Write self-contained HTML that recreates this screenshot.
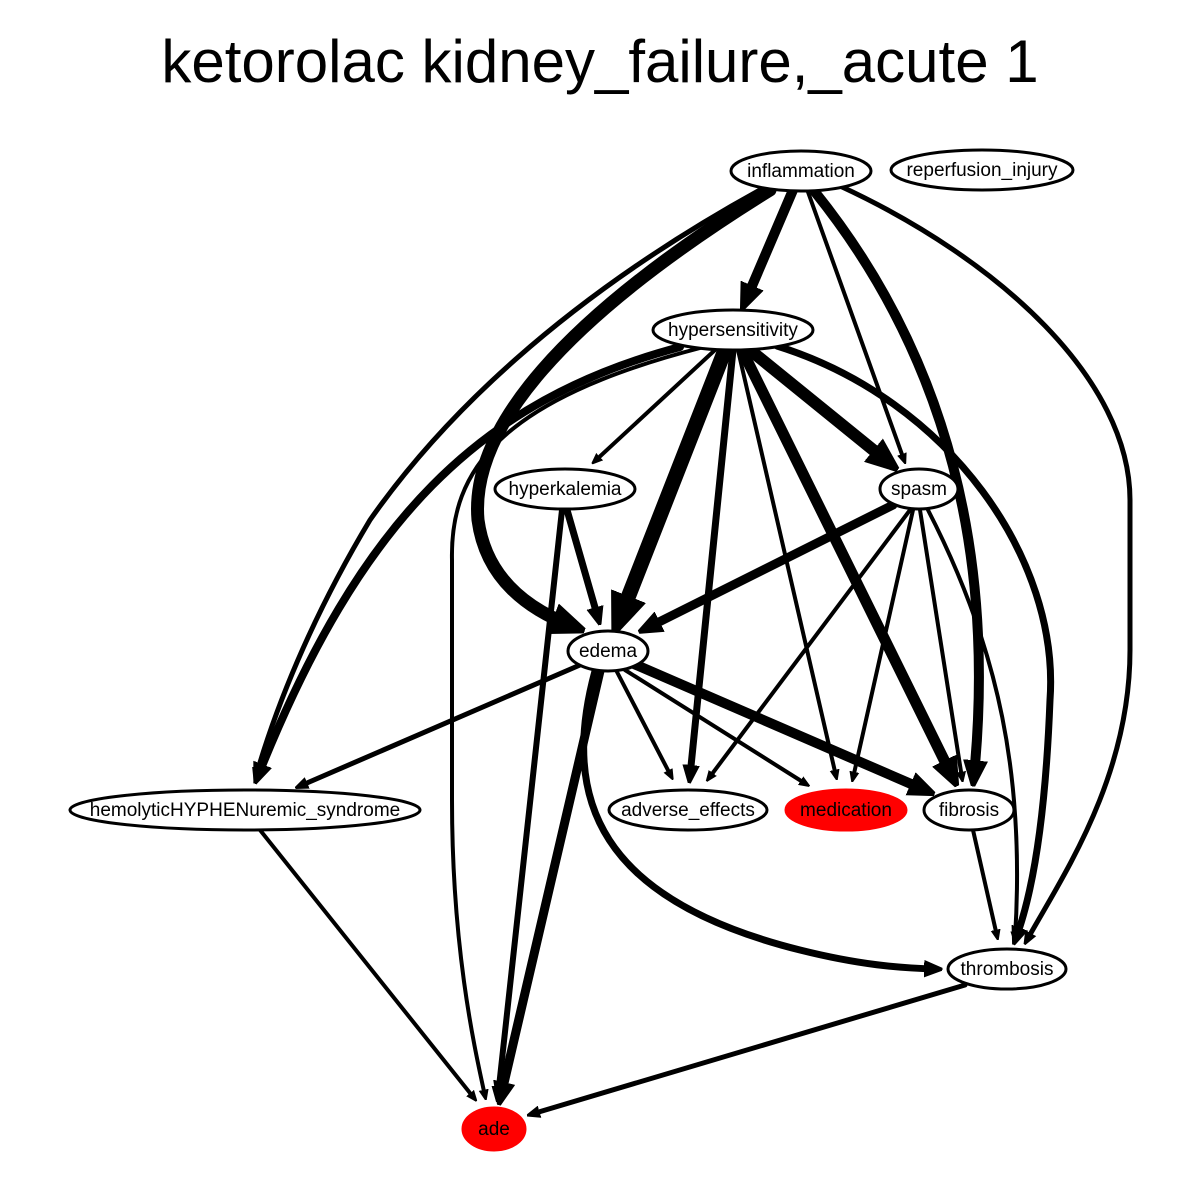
<!DOCTYPE html>
<html><head><meta charset="utf-8"><style>
body{margin:0;background:#fff}
svg{display:block}
text{font-family:"Liberation Sans",sans-serif}
</style></head><body>
<svg id="chart" width="1200" height="1200" viewBox="0 0 1200 1200">
<rect width="1200" height="1200" fill="#fff"/>
<text x="600" y="82" font-size="60" text-anchor="middle">ketorolac kidney_failure,_acute 1</text>
<defs>
<marker id="arr" viewBox="0 0 10 10" refX="6" refY="5" markerWidth="2.6" markerHeight="2.6" markerUnits="strokeWidth" orient="auto">
<path d="M0,1 L10,5 L0,9 Z" fill="#000" stroke="#000" stroke-width="1.5" stroke-linejoin="round"/>
</marker>
</defs>
<g id="edges"></g>
<g id="nodes"></g>
</svg>
<script>
const nodeNames=["inflammation","reperfusion_injury","hypersensitivity","hyperkalemia","spasm","edema","hemolyticHYPHENuremic_syndrome","adverse_effects","medication","fibrosis","thrombosis","ade"];
const nodeX=[801,982,733,565,919,608,245,688,846,969,1007,494];
const nodeY=[171,170,330,489,489,651,810,810,810,810,969,1129];
const nodeRX=[70,91,80,70,39,40,175,79,60,45,59,31];
const nodeFill=["#fff","#fff","#fff","#fff","#fff","#fff","#fff","#fff","red","#fff","#fff","red"];
const edgeFrom=[0,0,0,0,0,0,2,2,2,2,2,2,2,2,2,3,3,4,4,4,4,4,5,5,5,5,5,5,6,9,10];
const edgeTo=[2,5,6,4,9,10,6,3,5,7,8,9,4,10,11,5,11,5,7,8,9,10,6,7,8,9,11,10,11,10,11];
const edgeWeight=[10,13,5,4,10,5,8,4,15,7,4,11,12,7,4,7,6,9,4,4,4,4,5,4,4,10,9,7,4,4,5];
const edgePaths=[
"M793,190 L746,300",
"M770,190 C560,320 470,430 478,520 C486,580 530,610 572,626",
"M760,190 C560,300 440,420 370,520 C310,620 275,710 256,776",
"M808,192 L904,460",
"M815,192 C950,360 995,560 974,776",
"M840,186 C1000,260 1130,380 1130,500 L1130,650 C1130,780 1060,880 1027,940",
"M680,347 C480,400 360,520 258,776",
"M715,350 L595,461",
"M725,350 L620,618",
"M733,350 L690,776",
"M738,350 L836,776",
"M742,350 L952,776",
"M750,350 L888,462",
"M777,346 C950,400 1060,560 1050,700 C1045,830 1030,900 1016,938",
"M700,348 C500,400 450,470 452,560 L452,800 C452,950 475,1050 485,1096",
"M567,510 L598,618",
"M562,510 L498,1096",
"M893,505 L647,628",
"M910,510 L709,778",
"M913,510 L853,778",
"M920,510 L962,778",
"M928,510 C1000,650 1025,780 1015,938",
"M580,665 L300,786",
"M616,670 L671,776",
"M625,670 L806,784",
"M634,664 L925,790",
"M600,671 L501,1096",
"M595,671 C560,800 600,900 800,950 C860,965 900,968 935,969",
"M260,830 L474,1098",
"M973,830 L997,936",
"M965,985 L532,1114"
];
const eg=document.getElementById('edges');
for(let i=0;i<edgeFrom.length;i++){
  const p=document.createElementNS('http://www.w3.org/2000/svg','path');
  p.setAttribute('d',edgePaths[i]);
  p.setAttribute('fill','none');
  p.setAttribute('stroke','#000');
  p.setAttribute('stroke-width',edgeWeight[i]);
  p.setAttribute('stroke-linecap','round');
  p.setAttribute('marker-end','url(#arr)');
  
  
  eg.appendChild(p);
}
const ng=document.getElementById('nodes');
for(let i=0;i<nodeNames.length;i++){
  const g=document.createElementNS('http://www.w3.org/2000/svg','g');
  
  
  const e=document.createElementNS('http://www.w3.org/2000/svg','ellipse');
  e.setAttribute('cx',nodeX[i]);e.setAttribute('cy',nodeY[i]);
  e.setAttribute('rx',nodeRX[i]);e.setAttribute('ry',i==11?21:20);
  e.setAttribute('fill',nodeFill[i]);
  e.setAttribute('stroke',nodeFill[i]=='red'?'red':'#000');
  e.setAttribute('stroke-width',3);
  g.appendChild(e);
  const t=document.createElementNS('http://www.w3.org/2000/svg','text');
  t.setAttribute('x',nodeX[i]);t.setAttribute('y',nodeY[i]+6);
  t.setAttribute('font-size',19);t.setAttribute('text-anchor','middle');
  t.textContent=nodeNames[i];
  g.appendChild(t);
  ng.appendChild(g);
}
</script>
</body></html>
